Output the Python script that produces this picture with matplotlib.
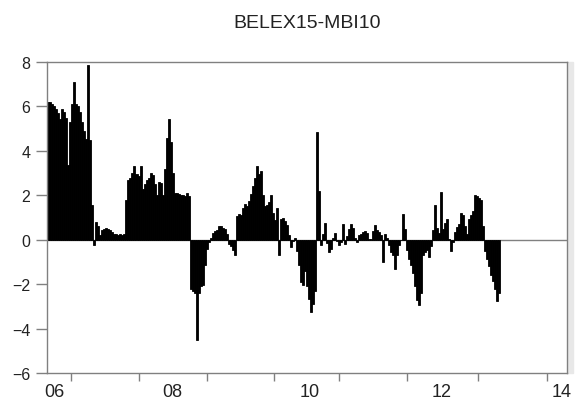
import numpy as np
import matplotlib
matplotlib.use("Agg")
from matplotlib import pyplot as plt
from matplotlib.patches import Rectangle

# BELEX15 - MBI10 spread (one value per ~2 px of the original)
seg_2006 = [6.2, 6.2, 6.1, 6.0, 5.9, 5.7, 5.45, 5.9, 5.75, 5.5,
            3.35, 5.3, 6.1, 7.1, 6.1, 6.0, 5.75, 5.3, 4.9, 4.55,
            7.85, 4.5, 1.55, -0.25, 0.8, 0.6, 0.2, 0.42, 0.5, 0.55,
            0.5, 0.42, 0.35, 0.27, 0.27, 0.22, 0.24, 0.2, 0.25]
seg_2007 = [1.8, 2.7, 2.8, 3.0, 3.3, 2.95, 2.85, 3.3, 2.3, 2.5,
            2.7, 2.8, 3.0, 2.9, 2.5, 2.0, 2.6, 2.55, 2.0, 3.2,
            4.6, 5.45, 4.4, 3.0, 2.1, 2.1, 2.05, 2.0, 2.0, 1.95,
            2.1, 1.95]
seg_2008 = [-2.2, -2.3, -2.4, -4.5, -2.4, -2.1, -2.05, -1.15, -0.4, -0.1,
            0.1, 0.3, 0.38, 0.45, 0.6, 0.62, 0.55, 0.48, 0.25, -0.2,
            -0.3, -0.45, -0.7]
seg_2009 = [1.05, 1.15, 1.12, 1.45, 1.6, 1.5, 1.75, 2.05, 2.4, 2.8,
            3.3, 2.95, 3.1, 2.0, 1.5, 1.55, 1.7, 2.0, 1.2, 0.9,
            1.45, -0.7, 0.95, 1.0, 0.85, 0.65, 0.2, -0.35, -0.05, 0.1]
seg_2010 = [-0.5, -1.15, -1.9, -2.05, -1.4, -2.1, -2.65, -3.25, -2.9, -2.3,
            4.85, 2.2, -0.25, 0.25, 0.75, -0.15, -0.55, -0.4, 0.1, 0.3,
            -0.05, -0.25, -0.1, 0.7, -0.2, 0.15]
seg_2011 = [0.5, 0.72, 0.55, 0.1, -0.1, 0.2, 0.27, 0.35, 0.4, 0.3,
            0.05, 0.05, 0.4, 0.65, 0.45, 0.35, 0.2, -1.0, 0.25, 0.1,
            -0.25, -0.55, -0.7, -1.3, -0.7, -0.25, 0.0, 1.17, 0.5, -0.45,
            -0.85, -1.15, -1.5, -2.1, -2.7, -2.95, -2.4, -0.7, -0.55, -0.45,
            -0.8, -0.3]
seg_2012 = [0.45, 1.55, 0.55, 0.3, 2.15, 0.5, 0.75, 0.95, 0.05, -0.5,
            -0.1, 0.35, 0.57, 0.7, 1.2, 1.1, 0.6, 0.27, 0.95, 1.1,
            1.3, 2.0, 1.95, 1.9, 1.8, 0.6, -0.5, -0.85, -1.2, -1.6,
            -1.85, -2.2, -2.75, -2.4]

spread = np.array(seg_2006 + seg_2007 + seg_2008 + seg_2009 +
                  seg_2010 + seg_2011 + seg_2012)
obs = np.arange(len(spread))

year_labels = ["06", "08", "10", "12", "14"]
label_obs = [2.75, 62.0, 130.75, 196.75, 256.75]
tick_obs = [11.1, 45.25, 79.25, 112.75, 145.25, 179.25, 214.75, 249.25]

plt.rcParams['font.family'] = ['Liberation Sans', 'DejaVu Sans']

fig = plt.figure(figsize=(5.86, 4.10), dpi=100)
ax = fig.add_axes([0.0802, 0.0878, 0.8874, 0.7585])

ax.bar(obs, spread, width=1.0, color="black", edgecolor="black", linewidth=0.6)
ax.axhline(0, color="#808080", linewidth=1.0, zorder=0)

ax.set_xlim(-0.75, 259.25)
ax.set_ylim(-6, 8)
ax.set_yticks(np.arange(-6, 9, 2))
ax.tick_params(axis="y", direction="out", length=8, width=1, color="#808080",
               pad=4, labelsize=11.5, labelcolor="#222222")

ax.set_xticks(tick_obs)
ax.set_xticklabels([])
ax.tick_params(axis="x", direction="out", length=6, width=1, color="#808080")
for lab, pos in zip(year_labels, label_obs):
    ax.text(pos, -0.06, lab, transform=ax.get_xaxis_transform(),
            ha="center", va="center", fontsize=13, color="#222222")

for sp in ax.spines.values():
    sp.set_color("#808080")
    sp.set_linewidth(1.0)

# light shadow strip on the right of the frame
fig.add_artist(Rectangle((567 / 586, 0.0878), 6 / 586, 0.7585,
                         transform=fig.transFigure, color="#e8e8e8", zorder=-1))

fig.suptitle("BELEX15-MBI10", x=307 / 586, y=1 - 23 / 410, va="center",
             fontsize=14, color="#222222")

fig.savefig("out.png", dpi=100)
plt.close(fig)
